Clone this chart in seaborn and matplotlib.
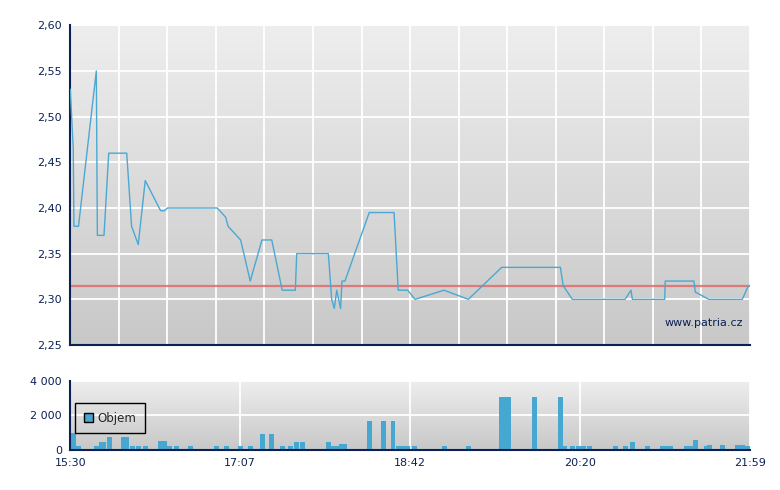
import numpy as np
import matplotlib
matplotlib.use('Agg')
import matplotlib.pyplot as plt
import seaborn as sns
from matplotlib.colors import LinearSegmentedColormap
from matplotlib.patches import Patch
from matplotlib.ticker import FuncFormatter

sns.set_style("white")
plt.rcParams['font.family'] = ['DejaVu Sans']

# ============================================================================
# DATA (minutes after 15:30)
# ============================================================================
price_min = [0.0, 1.7, 2.1, 4.7, 14.9, 15.5, 19.3, 22.0, 32.3, 35.1, 38.9, 42.9,
             51.7, 53.8, 55.7, 84.1, 88.9, 90.3, 97.5, 103.0, 109.7, 115.3, 121.3,
             128.8, 129.6, 147.7, 149.6, 151.1, 152.5, 154.7, 155.5, 157.2, 171.1,
             185.3, 187.7, 193.1, 197.3, 213.9, 227.8, 246.9, 280.5, 282.1, 287.3,
             317.5, 320.9, 321.7, 340.2, 340.5, 356.9, 357.7, 365.4, 384.6, 388.1, 389.0]
price_val = [2.53, 2.465, 2.38, 2.38, 2.55, 2.37, 2.37, 2.46, 2.46, 2.38, 2.36, 2.43,
             2.397, 2.397, 2.40, 2.40, 2.39, 2.38, 2.365, 2.32, 2.365, 2.365, 2.31,
             2.31, 2.35, 2.35, 2.30, 2.29, 2.31, 2.29, 2.32, 2.32, 2.395,
             2.395, 2.31, 2.31, 2.30, 2.31, 2.30, 2.335, 2.335, 2.315, 2.30,
             2.30, 2.31, 2.30, 2.30, 2.32, 2.32, 2.308, 2.30, 2.30, 2.315, 2.315]

prev_close = 2.315

vol_min = [1.8, 4.7, 15.0, 17.9, 19.0, 22.4, 30.5, 32.2, 35.6, 39.0, 43.0, 51.6,
           53.9, 56.8, 60.8, 68.8, 83.7, 89.4, 97.4, 103.1, 110.0, 114.9, 121.4,
           126.0, 129.5, 132.9, 147.8, 150.6, 152.9, 155.5, 157.2, 171.2, 179.5,
           184.7, 187.8, 190.4, 193.0, 197.0, 214.2, 227.9, 246.8, 248.8, 250.8,
           265.7, 282.8, 280.5, 287.4, 290.8, 293.7, 297.1, 312.0, 317.7, 321.8,
           330.3, 338.9, 341.2, 343.5, 352.7, 355.5, 357.8, 364.1, 365.8, 373.3,
           381.8, 384.7, 387.6]
vol_val = [980, 250, 250, 460, 460, 750, 750, 750, 250, 250, 250, 520,
           520, 250, 250, 250, 250, 250, 250, 250, 920, 920, 250,
           250, 460, 460, 460, 250, 250, 350, 350, 1670, 1670,
           1670, 250, 250, 250, 250, 250, 250, 3050, 3050, 3050,
           3050, 250, 3050, 250, 250, 250, 250, 250, 250, 460,
           250, 250, 250, 250, 250, 250, 580, 250, 300, 300,
           300, 300, 250]

session_len = 389
time_labels = ['15:30', '17:07', '18:42', '20:20', '21:59']

navy = '#0b2155'
line_blue = '#4aa8d2'
bar_blue = '#46a7d0'

# ============================================================================
# FIGURE
# ============================================================================
fig = plt.figure(figsize=(7.8, 4.9), dpi=100)
ax = fig.add_axes([0.0901, 0.2959, 0.8714, 0.6525])
axv = fig.add_axes([0.0901, 0.0816, 0.8714, 0.1414])

grad_cmap = LinearSegmentedColormap.from_list('bg', ['#eeeeee', '#c8c8c8'])


def style_axes(a):
    grad = np.linspace(0, 1, 256).reshape(-1, 1)
    a.imshow(grad, cmap=grad_cmap, aspect='auto', extent=[0, 1, 0, 1],
             transform=a.transAxes, zorder=0)
    a.set_axisbelow(True)
    a.grid(True, color='white', lw=1.3)
    for s in ['top', 'right']:
        a.spines[s].set_visible(False)
    for s in ['left', 'bottom']:
        a.spines[s].set_color(navy)
        a.spines[s].set_linewidth(1.5)
    a.tick_params(axis='both', direction='out', length=4, width=1.2,
                  color=navy, labelcolor=navy, labelsize=8, pad=2)


# price chart
style_axes(ax)
sns.lineplot(x=price_min, y=price_val, ax=ax, color=line_blue, lw=1,
             estimator=None, sort=False, zorder=3)
ax.axhline(prev_close, color='#e06a6a', lw=1.6, alpha=0.85, zorder=2)
ax.set_xlim(0, session_len)
ax.set_ylim(2.25, 2.60)
ax.set_xticks(np.linspace(0, session_len, 15))
ax.set_xticklabels([])
ax.set_yticks(np.arange(2.25, 2.601, 0.05))
ax.yaxis.set_major_formatter(FuncFormatter(lambda v, p: f"{v:.2f}".replace('.', ',')))
ax.set_xlabel('')
ax.set_ylabel('')
ax.text(0.99, 0.07, 'www.patria.cz', transform=ax.transAxes, ha='right',
        va='center', color=navy, fontsize=8)

# volume chart
style_axes(axv)
axv.bar(vol_min, vol_val, width=2.86, color=bar_blue, edgecolor='none',
        linewidth=0, zorder=2)
axv.set_xlim(0, session_len)
axv.set_ylim(0, 4000)
axv.set_xticks(np.linspace(0, session_len, 5))
axv.set_xticklabels(time_labels)
axv.set_yticks([0, 2000, 4000])
axv.yaxis.set_major_formatter(FuncFormatter(lambda v, p: f"{int(v):,}".replace(',', ' ')))
leg = axv.legend(handles=[Patch(facecolor=bar_blue, edgecolor='black', lw=1, label='Objem')],
                 loc='lower left', bbox_to_anchor=(0.007, 0.24), fancybox=False,
                 edgecolor='black', fontsize=8.5, handlelength=0.75,
                 handleheight=0.75, handletextpad=0.4, borderpad=0.75,
                 borderaxespad=0)
leg.get_frame().set_facecolor('none')
leg.get_frame().set_alpha(None)
leg.get_frame().set_linewidth(1)

fig.savefig('out.png', dpi=100)
